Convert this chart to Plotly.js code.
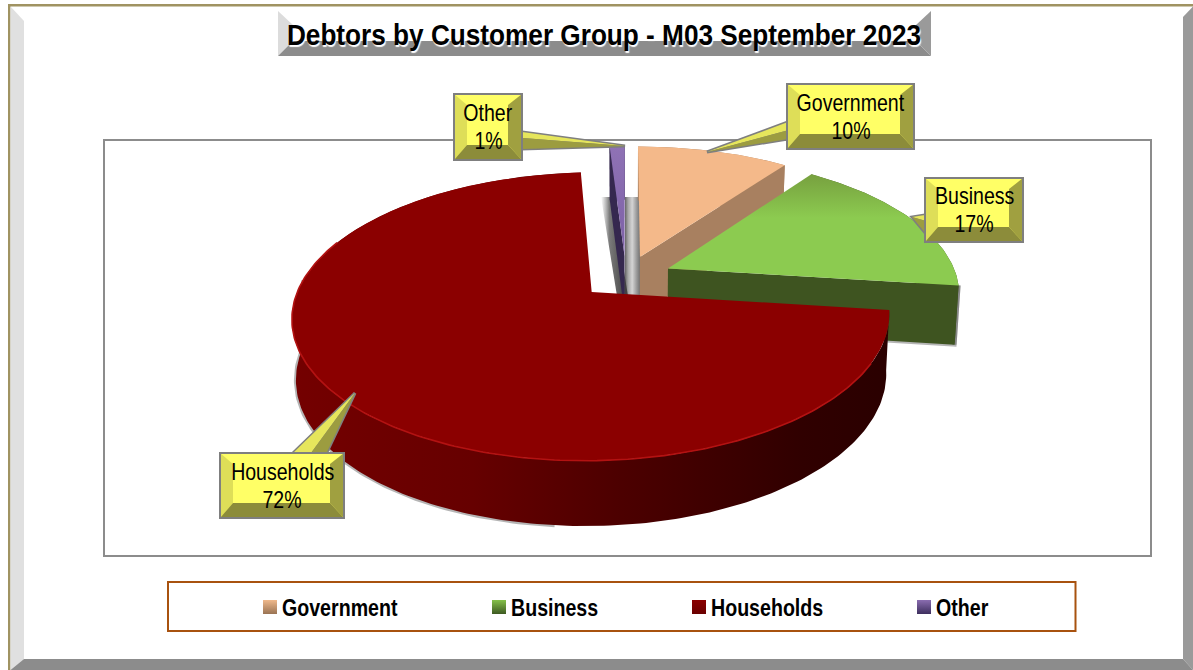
<!DOCTYPE html>
<html>
<head>
<meta charset="utf-8">
<script src="https://cdn.plot.ly/plotly-3.0.1.min.js"></script>
<style>html,body{margin:0;padding:0;background:#fff;overflow:hidden}#chart{width:1193px;height:670px}</style>
</head>
<body>
<div id="chart"></div>
<script>
// ---- data ----
const chartTitle = "Debtors by Customer Group - M03 September 2023";
const categories = ["Government", "Business", "Households", "Other"];
const values = [10, 17, 72, 1];

// ---- styles ----
const topColors  = ["#f4b98a", "#8ccb50", "#8b0000", "#8a6db0"];
const wallColors = ["#a88060", "#3e5420", "#5a0000", "#35284f"];
const swatchColors = ["#f0b98c", "#86c24a", "#8b0000", "#8a6db0"];
const swatchDark = ["#9a7454", "#3e5a22", "#6a0000", "#3e2f5e"];
const fontFace = "'Liberation Sans',Arial,sans-serif";
const legendSlots = [250, 479, 679, 904];
const calloutBoxes = [
  [787, 84, 914, 149],
  [925, 178, 1023, 242],
  [220, 453, 344, 518],
  [454, 94, 522, 160]
];
const calloutWedges = [
  [[788,122],[800,127],[788,139],[707,152]],
  [[925,215],[940,225],[927,235],[912,217]],
  [[293,453],[300,468],[327,452],[355,393]],
  [[522,132],[510,137],[522,149],[625,146]]
];

// ---- 3D projection of a pie lying on a tilted plane ----
const cx = 626, cy = 277, Rx = 289, Ry = 135, H = 59, persp = 1/6, conv = 0.012, pull = 0.16;
function project(X, Y, Z) {
  const w = 1 - persp * Y;
  return [cx + Rx * X / w * (1 - conv * Z), cy + Ry * Y / w + H * Z / Math.sqrt(w)];
}
const total = values.reduce((a, b) => a + b, 0);
function rad(d) { return d * Math.PI / 180; }

let acc = 0;
const slices = values.map((v, i) => {
  const a0 = acc / total * 360;
  acc += v;
  const a1 = acc / total * 360;
  const m = rad((a0 + a1) / 2);
  const ox = pull * Math.sin(m), oy = -pull * Math.cos(m);
  const rim = (deg, z) => project(ox + Math.sin(rad(deg)), oy - Math.cos(rad(deg)), z);
  const apex = z => project(ox, oy, z);
  const arc = (from, to, z) => {
    const out = [], n = Math.max(2, Math.ceil(Math.abs(to - from)));
    for (let k = 0; k <= n; k++) out.push(rim(from + (to - from) * k / n, z));
    return out;
  };
  return { i, a0, a1, rim, apex, arc };
});

function poly(points, opts) {
  const closed = points.concat([points[0]]);
  return Object.assign({
    type: "scatter", mode: "lines", x: closed.map(p => p[0]), y: closed.map(p => p[1]),
    fill: "toself", line: { width: 0 }, hoverinfo: "skip", showlegend: false
  }, opts);
}
function polyline(points, color, width) {
  return {
    type: "scatter", mode: "lines", x: points.map(p => p[0]), y: points.map(p => p[1]),
    line: { width, color }, hoverinfo: "skip", showlegend: false
  };
}

const traces = [];
const haloColor = "rgba(70,70,70,0.4)";

function faceVisible(s, deg) {
  // a cut face shows when the sector lies above its edge on screen
  const a = s.apex(0), b = s.rim(deg, 0), c = s.rim((s.a0 + s.a1) / 2, 0);
  const t = (c[0] - a[0]) / ((b[0] - a[0]) || 1e-6);
  const yOnEdge = a[1] + (b[1] - a[1]) * t;
  return c[1] < yOnEdge - 0.01 && Math.abs(b[0] - a[0]) > 2;
}

function addSlice(s, wallGradient, topGradient, halo) {
  const i = s.i;
  const outer = s.arc(s.a0, s.a1, 0).concat(s.arc(s.a1, s.a0, 1));
  const visible = [s.a0, s.a1].filter(d => faceVisible(s, d));
  const faces = visible.map(d => [s.apex(0), s.rim(d, 0), s.rim(d, 1), s.apex(1)]);
  if (halo) {
    // soft shadow only along the lower silhouette
    traces.push(polyline(s.arc(Math.max(s.a0, halo[0]), Math.min(s.a1, halo[1]), 1)
      .concat([s.rim(Math.min(s.a1, halo[1]), 0)]), haloColor, 4));
    visible.forEach(d => traces.push(polyline([s.rim(d, 0), s.rim(d, 1), s.apex(1)], haloColor, 4)));
  }
  const wallOpts = wallGradient
    ? { fillcolor: wallColors[i], fillgradient: wallGradient }
    : { fillcolor: wallColors[i] };
  traces.push(poly(outer, wallOpts));
  faces.forEach(f => traces.push(poly(f, { fillcolor: wallColors[i] })));
  const top = [s.apex(0)].concat(s.arc(s.a0, s.a1, 0));
  const topOpts = topGradient
    ? { fillcolor: topColors[i], fillgradient: topGradient }
    : { fillcolor: topColors[i] };
  traces.push(poly(top, topOpts));
}

// central shadow columns seen in the gap between the slices
const shadowBand = {
  type: "horizontal", start: 625, stop: 641,
  colorscale: [[0, "#666666"], [0.2, "#a8a8a8"], [0.45, "#d4d4d4"], [0.7, "#a0a0a0"], [1, "#666666"]]
};
traces.push(poly([[625,197],[641,197],[641,296],[625,296]], { fillcolor: "#aaaaaa", fillgradient: shadowBand }));
const shadowLeft = {
  type: "horizontal", start: 601, stop: 622,
  colorscale: [[0, "rgba(120,120,120,0)"], [0.4, "rgba(90,90,90,0.8)"], [1, "rgba(60,60,60,0.9)"]]
};
traces.push(poly([[601,197],[612,197],[628,296],[617,296]], { fillcolor: "#888888", fillgradient: shadowLeft }));

addSlice(slices[0]);
addSlice(slices[3], null, {
  type: "vertical", start: 146, stop: 254,
  colorscale: [[0, "#8f72b5"], [1, "#7c60a6"]]
});
addSlice(slices[1], null, {
  type: "vertical", start: 172, stop: 218,
  colorscale: [[0, "#769e3e"], [1, "#8ccb50"]]
}, [90, 97.2]);
addSlice(slices[2], {
  type: "horizontal", start: 292, stop: 892,
  colorscale: [[0, "#740000"], [0.3, "#660000"], [0.55, "#4c0000"], [0.85, "#300000"], [1, "#2a0000"]]
}, null, [185, 275]);

// bright edge along the near rim of the largest slice
traces.push(polyline(slices[2].arc(118, 292, 0), "#b31212", 1.6));

// legend entries
const legendIds = ["legend", "legend2", "legend3", "legend4"];
categories.forEach((c, i) => traces.push({
  type: "scatter", mode: "markers", name: c, x: [null], y: [null],
  legend: legendIds[i], showlegend: true, hoverinfo: "skip",
  marker: { symbol: "square", size: 14, color: swatchColors[i], line: { width: 0 },
            gradient: { type: "vertical", color: swatchDark[i] } }
}));

// ---- decoration: frame, panels, callouts ----
function path(pts) { return "M" + pts.map(p => p[0] + "," + p[1]).join("L") + "Z"; }
function shape(pts, fill, layer, line) {
  return {
    type: "path", xref: "x", yref: "y", path: path(pts), fillcolor: fill, layer: layer || "below",
    line: line || { width: 0 }
  };
}
function rect(x0, y0, x1, y1, col, w, layer) {
  return { type: "rect", xref: "x", yref: "y", x0, y0, x1, y1, layer: layer || "below",
           fillcolor: "rgba(0,0,0,0)", line: { color: col, width: w } };
}
const shapes = [
  // outer frame
  shape([[8,4],[1193,4],[1193,6.5],[8,6.5]], "#a09362"),
  shape([[8,4],[10.5,4],[10.5,670],[8,670]], "#a09362"),
  shape([[10.5,6.5],[24,21],[24,659],[10.5,670]], "#e0e0e0"),
  shape([[1183,17],[1193,6.5],[1193,670],[1183,659]], "#9a9a9a"),
  shape([[24,659],[1183,659],[1193,670],[10.5,670]], "#8c8c8c"),
  // panels
  rect(104, 140, 1151, 556, "#8c8c8c", 2),
  rect(168, 582, 1075.5, 631, "#a8520f", 2),
  // title plate
  shape([[278,11],[293,25],[293,41],[278,56]], "#dcdcdc"),
  shape([[278,56],[293,41],[916,41],[931,56]], "#8c8c8c"),
  shape([[931,11],[916,25],[916,41],[931,56]], "#9a9a9a")
];
calloutWedges.forEach(w => {
  const [a, m, b, t] = w;
  shapes.push(shape([a, t, b], "#7f7f7f", "above", { color: "#7f7f7f", width: 3 }));
  shapes.push(shape([a, m, t], "#e6e65c", "above"));
  shapes.push(shape([m, b, t], "#9c9c40", "above"));
});
calloutBoxes.forEach(bx => {
  const [x0, y0, x1, y1] = bx;
  const il = x0 + 13, ir = x1 - 14, it = y0 + 11, ib = y1 - 15;
  shapes.push(shape([[x0,y0],[x1,y0],[x1,y1],[x0,y1]], "#ffff66", "above"));
  shapes.push(shape([[x0,y0],[il,it],[il,ib],[x0,y1]], "#dede58", "above"));
  shapes.push(shape([[x1,y0],[ir,it],[ir,ib],[x1,y1]], "#a0a040", "above"));
  shapes.push(shape([[x0,y1],[il,ib],[ir,ib],[x1,y1]], "#8c8c3a", "above"));
  shapes.push(rect(x0, y0, x1, y1, "#7f7f7f", 2, "above"));
});

const annotations = [];
categories.forEach((c, i) => {
  const bx = calloutBoxes[i];
  const xc = (bx[0] + bx[2]) / 2, yc = (bx[1] + bx[3]) / 2;
  [[c, -14], [values[i] + "%", 14]].forEach(([text, off]) => annotations.push({
    xref: "x", yref: "y", x: xc, y: yc + off, text, showarrow: false,
    font: { family: fontFace, size: 23, color: "#000" }, align: "center"
  }));
});

const layout = {
  width: 1193, height: 670,
  margin: { l: 0, r: 0, t: 0, b: 0 },
  paper_bgcolor: "#ffffff", plot_bgcolor: "#ffffff",
  xaxis: { range: [0, 1193], visible: false, fixedrange: true },
  yaxis: { range: [670, 0], visible: false, fixedrange: true },
  title: {
    text: chartTitle, xref: "paper", yref: "paper", x: 604 / 1193, y: 1 - 35 / 670,
    xanchor: "center", yanchor: "middle",
    font: { family: fontFace, size: 30, color: "#000", weight: "bold", shadow: "1px 1px 1px #ffffff" }
  },
  shapes, annotations, showlegend: true
};
legendIds.forEach((id, i) => {
  layout[id] = {
    x: legendSlots[i] / 1193, y: 1 - 607 / 670, xanchor: "left", yanchor: "middle",
    orientation: "h", bgcolor: "rgba(0,0,0,0)", borderwidth: 0,
    font: { family: fontFace, size: 23, color: "#000", weight: "bold" }
  };
});

// no condensed face is installed: narrow the real text horizontally
function squeeze(el, sx, dx, fromLeft) {
  const bb = el.getBBox();
  const ox = fromLeft ? bb.x : bb.x + bb.width / 2;
  el.setAttribute("transform", `translate(${ox + dx},0) scale(${sx},1) translate(${-ox},0)`);
}
Plotly.newPlot("chart", traces, layout, { displayModeBar: false, staticPlot: true }).then(gd => {
  gd.querySelectorAll(".gtitle").forEach(t => squeeze(t, 0.873, 0, false));
  gd.querySelectorAll(".annotation-text").forEach(t => squeeze(t, 0.85, 0, false));
  legendIds.forEach(id => gd.querySelectorAll("." + id + "text").forEach(t => squeeze(t, 0.853, -8, true)));
});
</script>
</body>
</html>
